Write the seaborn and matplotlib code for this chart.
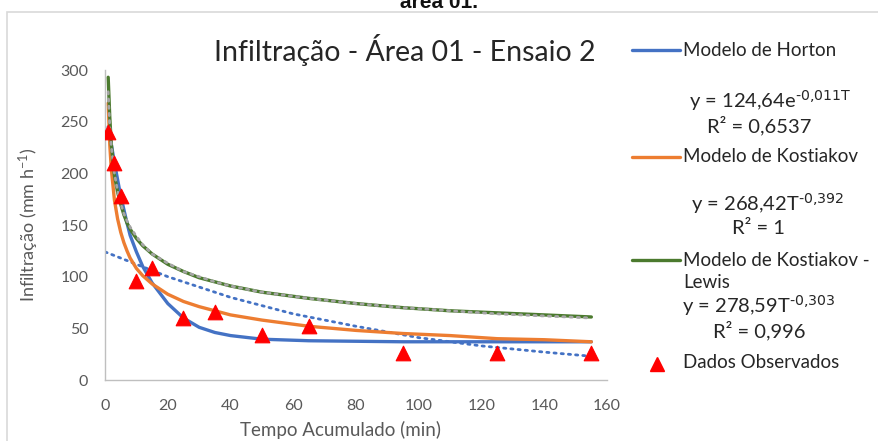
import numpy as np
import pandas as pd
import matplotlib.pyplot as plt
import seaborn as sns
from matplotlib.lines import Line2D
from matplotlib.patches import Rectangle

# observed points
t_obs = [1, 3, 5, 10, 15, 25, 35, 50, 65, 95, 125, 155]
f_obs = [240, 210, 178, 96, 108, 60, 66, 44, 52, 26, 26, 26]

# model curves
t_mod = [1, 1.5, 2, 3, 4, 5, 6, 7, 8, 10, 12, 15, 20, 25, 30, 35, 40, 50, 65, 80, 95,
         110, 125, 140, 155]
horton = [245, 237, 228, 210, 194, 178, 165, 152, 140, 124, 110, 94, 74, 60, 51, 46, 43,
          39.5, 38, 37.5, 37, 37, 37, 37, 37]
kostiakov = [268, 228, 204, 174, 156, 143, 133, 125, 118, 108, 101, 93, 83, 76, 71, 67, 63,
             58, 52, 48, 45, 43, 40, 39, 37]
kost_lewis = [293, 255, 228, 198, 182, 170, 160, 152, 146, 137, 130, 122, 112, 105, 99, 95,
              91, 85, 79, 74, 70, 67, 65, 63, 61]

# trendlines (dotted)
kl_trend = [279, 246, 226, 200, 183, 171, 161, 154, 148, 139, 131, 122, 113, 105, 100, 95,
            91, 85, 79, 74, 70, 67, 64, 62, 60]
t_exp = [0, 20, 40, 60, 80, 100, 120, 140, 155]
exp_trend = [124, 100, 80, 64, 52, 41, 33, 27, 23]

sns.set_theme(style="white")
plt.rcParams['font.family'] = ['Lato', 'DejaVu Sans']
plt.rcParams['mathtext.default'] = 'regular'

BLUE = '#4472C4'
ORANGE = '#ED7D31'
GREEN = '#4B7A2E'
GRAY = '#595959'
TXT = '#262626'

fig = plt.figure(figsize=(8.79, 4.41), dpi=100)
ax = fig.add_axes([0.1195, 0.1383, 0.5711, 0.7029])

sns.lineplot(x=t_exp, y=exp_trend, ax=ax, color=BLUE, lw=2, linestyle=(0, (0.8, 1.8)),
             dash_capstyle='round')
sns.lineplot(x=t_mod, y=horton, ax=ax, color=BLUE, lw=2.4)
sns.lineplot(x=t_mod, y=kostiakov, ax=ax, color=ORANGE, lw=2.4)
sns.lineplot(x=t_mod, y=kost_lewis, ax=ax, color=GREEN, lw=2.4)
sns.lineplot(x=t_mod, y=kl_trend, ax=ax, color='#A5A5A5', lw=2, linestyle=(0, (0.8, 1.8)),
             dash_capstyle='round')
sns.scatterplot(x=t_obs, y=f_obs, ax=ax, marker='^', color='#FF0000', s=110,
                edgecolor='#FF0000', zorder=5)

ax.set_xlim(0, 160)
ax.set_ylim(0, 300)
ax.set_xticks(range(0, 161, 20))
ax.set_yticks(range(0, 301, 50))
ax.tick_params(axis='both', length=0, labelsize=11.5, labelcolor=GRAY)
ax.tick_params(axis='x', pad=14)
ax.tick_params(axis='y', pad=12)
for s in ['top', 'right']:
    ax.spines[s].set_visible(False)
for s in ['left', 'bottom']:
    ax.spines[s].set_color('#BFBFBF')
    ax.spines[s].set_linewidth(1)
ax.set_xlabel('')
ax.set_ylabel('Infiltração (mm h$^{-1}$)', fontsize=13, color=GRAY, labelpad=14)

fig.text(0.387, 1 - 436 / 441, 'Tempo Acumulado (min)', ha='center', va='baseline',
         fontsize=13.5, color=GRAY)

# outer chart border
fig.add_artist(Rectangle((7 / 879, -0.1), 1.2, 1 - 12 / 441 + 0.1, transform=fig.transFigure,
                         fill=False, edgecolor='#D9D9D9', lw=1.2))

# caption, cut at the top like the source
fig.text(0.5, 1 - 8 / 441, 'área 01.', ha='center', va='baseline', fontsize=15,
         fontweight='bold', family=['Liberation Sans', 'DejaVu Sans'], color='#111111')

fig.text(405 / 879, 1 - 50 / 441, 'Infiltração - Área 01 - Ensaio 2', ha='center',
         va='center', fontsize=20.5, color=TXT)

# legend drawn by hand, Excel style
def leg_line(y, color):
    fig.add_artist(Line2D([632 / 879, 680 / 879], [1 - y / 441] * 2, color=color, lw=2.4,
                          transform=fig.transFigure))

def leg_text(y, s, x=683):
    fig.text(x / 879, 1 - y / 441, s, ha='left', va='center', fontsize=13.5, color=TXT)

def eq_text(y, s, x):
    fig.text(x / 879, 1 - y / 441, s, ha='center', va='center', fontsize=14.5, color=TXT)

leg_line(50, BLUE)
leg_text(50, 'Modelo de Horton')
eq_text(101, r'y = 124,64e$^{\text{-0,011T}}$', 770)
eq_text(126, 'R² = 0,6537', 759)
leg_line(157, ORANGE)
leg_text(157, 'Modelo de Kostiakov')
eq_text(204, r'y = 268,42T$^{\text{-0,392}}$', 768)
eq_text(229, 'R² = 1', 758)
leg_line(260, GREEN)
leg_text(260, 'Modelo de Kostiakov -')
leg_text(283, 'Lewis')
eq_text(306, r'y = 278,59T$^{\text{-0,303}}$', 759)
eq_text(331, 'R² = 0,996', 759)
fig.add_artist(Line2D([657 / 879], [1 - 364 / 441], marker='^', color='#FF0000', ms=10,
                      lw=0, transform=fig.transFigure))
leg_text(362, 'Dados Observados')

fig.savefig('out.png', dpi=100)
